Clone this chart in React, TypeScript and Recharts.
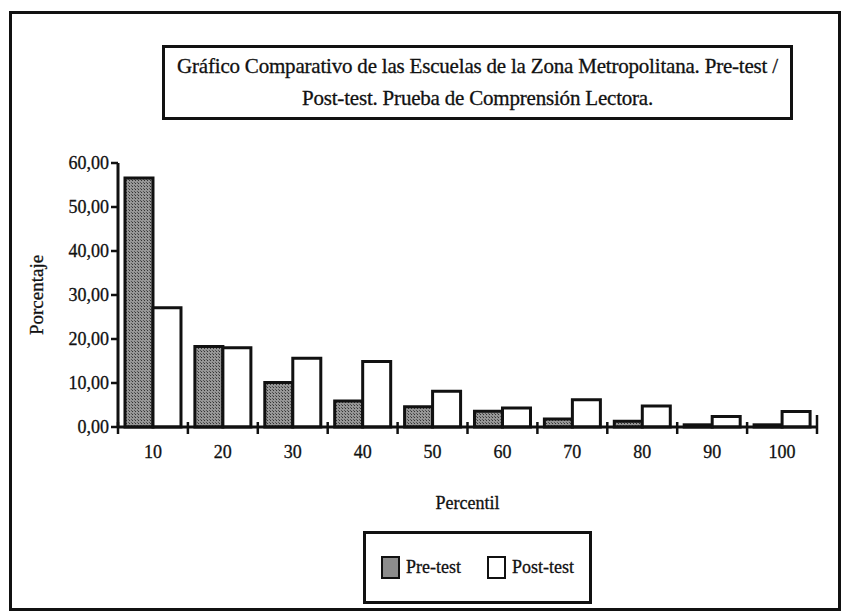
import React from "react";
import { BarChart, Bar, XAxis, YAxis, Legend } from "recharts";

// Percentil groups and percentages
const percentiles = ["10", "20", "30", "40", "50", "60", "70", "80", "90", "100"];
const preTest = [56.6, 18.3, 10.1, 5.9, 4.6, 3.6, 1.8, 1.3, 0.5, 0.5];
const postTest = [27.1, 18.0, 15.6, 14.9, 8.1, 4.3, 6.2, 4.8, 2.4, 3.5];
const yTicks = [0, 10, 20, 30, 40, 50, 60];

const data = percentiles.map((p, i) => ({ percentil: p, pre: preTest[i], post: postTest[i] }));

const FONT = "'Liberation Serif', 'DejaVu Serif', serif";
const INK = "#111";
const PLOT_W = 699;
const BAND = PLOT_W / percentiles.length;

const fmt = (v: number) => v.toFixed(2).replace(".", ",");

// category tick: label at band centre plus the boundary marks crossing the axis
const XTick = ({ x, y, payload, index }: any) => (
  <g>
    <line x1={x - BAND / 2} x2={x - BAND / 2} y1={y - 5} y2={y + 7} stroke={INK} strokeWidth={2.5} />
    {index === percentiles.length - 1 && (
      <line x1={x + BAND / 2} x2={x + BAND / 2} y1={y - 12} y2={y + 7} stroke={INK} strokeWidth={2.5} />
    )}
    <text x={x} y={y + 31} textAnchor="middle" fontSize={18} fontFamily={FONT} fill={INK} stroke={INK} strokeWidth={0.3}>
      {payload.value}
    </text>
  </g>
);

const LegendBox = () => (
  <div
    style={{
      width: 223,
      height: 67,
      border: `3px solid ${INK}`,
      display: "flex",
      alignItems: "center",
      justifyContent: "center",
      gap: 26,
      fontFamily: FONT,
      fontSize: 18,
      color: INK,
      background: "#fff",
      WebkitTextStroke: "0.3px #111",
    }}
  >
    <span style={{ display: "flex", alignItems: "center", gap: 6 }}>
      <span style={{ width: 15, height: 19, border: `2.5px solid ${INK}`, background: "#8c8c8c" }} />
      Pre-test
    </span>
    <span style={{ display: "flex", alignItems: "center", gap: 6 }}>
      <span style={{ width: 15, height: 19, border: `2.5px solid ${INK}`, background: "#fff" }} />
      Post-test
    </span>
  </div>
);

export default function App() {
  return (
    <div style={{ position: "absolute", left: 0, top: 0, width: 844, height: 611, background: "#fff", overflow: "hidden" }}>
      {/* outer frame */}
      <div style={{ position: "absolute", left: 9, top: 11, width: 826, height: 594, border: `3px solid ${INK}` }} />

      {/* title box */}
      <div
        style={{
          position: "absolute",
          left: 162,
          top: 45,
          width: 625,
          height: 67,
          border: `3px solid ${INK}`,
          fontFamily: FONT,
          fontSize: 21,
          lineHeight: "32px",
          color: INK,
          textAlign: "center",
          whiteSpace: "nowrap",
          paddingTop: 2,
          letterSpacing: -0.2,
          WebkitTextStroke: "0.3px #111",
        }}
      >
        Gráfico Comparativo de las Escuelas de la Zona Metropolitana. Pre-test /
        <br />
        Post-test. Prueba de Comprensión Lectora.
      </div>

      <div style={{ position: "absolute", left: 0, top: 0 }}>
        <BarChart
          width={844}
          height={611}
          data={data}
          margin={{ top: 163, right: 27, left: 20, bottom: 94 }}
          barGap={0}
          barCategoryGap="10%"
        >
          <defs>
            <pattern id="stipple" width="3" height="3" patternUnits="userSpaceOnUse">
              <rect width="3" height="3" fill="#969696" />
              <rect width="1" height="1" fill="#333" />
              <rect x="2" y="2" width="1" height="1" fill="#555" />
            </pattern>
          </defs>
          <XAxis
            dataKey="percentil"
            height={90}
            tick={<XTick />}
            tickLine={false}
            tickSize={0}
            tickMargin={0}
            interval={0}
            axisLine={{ stroke: INK, strokeWidth: 3 }}
            label={{ value: "Percentil", position: "insideBottom", offset: 8, fontSize: 18, fontFamily: FONT, fill: INK, stroke: INK, strokeWidth: 0.3 }}
          />
          <YAxis
            width={98}
            domain={[0, 60]}
            ticks={yTicks}
            interval={0}
            tickFormatter={fmt}
            tickSize={7}
            tick={{ fontSize: 18, fontFamily: FONT, fill: INK, stroke: INK, strokeWidth: 0.3 }}
            tickLine={{ stroke: INK, strokeWidth: 2.5 }}
            axisLine={{ stroke: INK, strokeWidth: 3 }}
            label={{ value: "Porcentaje", angle: -90, position: "insideLeft", offset: 16, fontSize: 19, fontFamily: FONT, fill: INK, stroke: INK, strokeWidth: 0.3, style: { textAnchor: "middle" } }}
          />
          <Legend
            layout="horizontal"
            verticalAlign="middle"
            align="center"
            content={<LegendBox />}
            wrapperStyle={{ position: "absolute", left: 363, top: 531, width: 229, height: 73 }}
          />
          <Bar dataKey="pre" name="Pre-test" fill="url(#stipple)" stroke={INK} strokeWidth={3} isAnimationActive={false} />
          <Bar dataKey="post" name="Post-test" fill="#fff" stroke={INK} strokeWidth={3} isAnimationActive={false} />
        </BarChart>
      </div>
    </div>
  );
}
